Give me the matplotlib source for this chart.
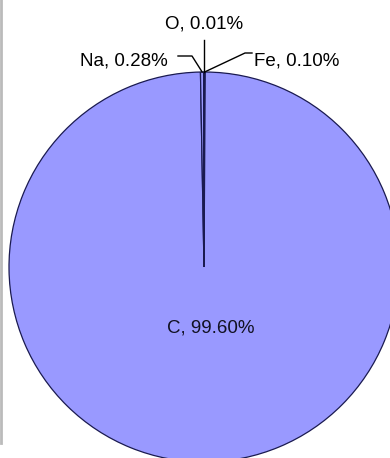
import matplotlib.pyplot as plt
import numpy as np

plt.rcParams['font.family'] = ['Liberation Sans', 'DejaVu Sans']

# composition (clockwise from 12 o'clock)
elements = ["Fe", "C", "Na", "O"]
percent = [0.10, 99.60, 0.28, 0.01]

fig = plt.figure(figsize=(3.9, 4.58), dpi=100)
ax = fig.add_axes([0, 0, 1, 1])

H = 458
cx, cy, r = 204, H - 267, 195
wedges, _ = ax.pie(percent, startangle=90, counterclock=False,
                   colors=["#9999ff"] * len(percent), center=(cx, cy), radius=r,
                   wedgeprops=dict(edgecolor="#1a1a50", linewidth=0.9))
ax.set_xlim(0, 390)
ax.set_ylim(0, H)
ax.set_aspect("equal")
ax.axis("off")

labels = [f"{e}, {p:.2f}%" for e, p in zip(elements, percent)]

# leader line bend points and label anchors for the thin slices
bends = {"Na": [(192, H - 56), (178, H - 56)],
         "Fe": [(245, H - 53), (252, H - 53)],
         "O": [(None, H - 40)]}
text_pos = {"Na": (168, H - 61, "right"),
            "Fe": (254, H - 61, "left"),
            "O": (204, H - 24, "center")}

for w, e, lab in zip(wedges, elements, labels):
    if e == "C":
        ax.text(211, H - 328, lab, ha="center", va="center", fontsize=13.5, color="#111122")
        continue
    mid = np.deg2rad((w.theta1 + w.theta2) / 2)
    px, py = cx + r * np.cos(mid), cy + r * np.sin(mid)
    pts = [(px, py)] + [(px if bx is None else bx, by) for bx, by in bends[e]]
    ax.plot([p[0] for p in pts], [p[1] for p in pts], color="black", lw=1.0)
    tx, ty, h = text_pos[e]
    ax.text(tx, ty, lab, ha=h, va="center", fontsize=13.5, color="black")

# thin grey frame edge on the left
ax.plot([1, 1], [15, H], color="#bbbbbb", lw=2)

fig.savefig("out.png", dpi=100)
